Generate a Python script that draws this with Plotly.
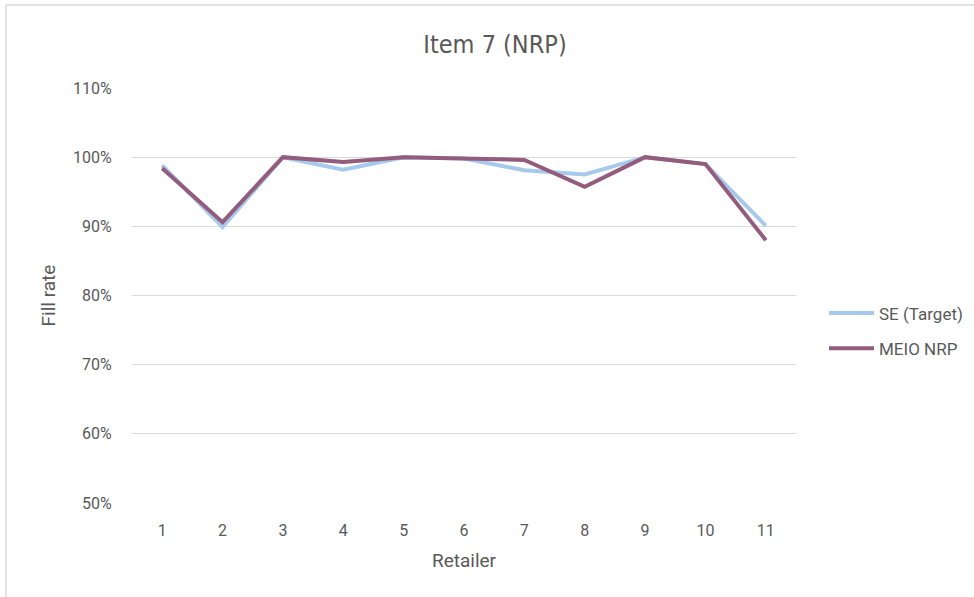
import plotly.graph_objects as go

retailers = ["1", "2", "3", "4", "5", "6", "7", "8", "9", "10", "11"]
se_target = [0.988, 0.899, 1.000, 0.982, 1.000, 0.998, 0.981, 0.975, 1.000, 0.990, 0.901]
meio_nrp = [0.984, 0.906, 1.000, 0.993, 1.000, 0.998, 0.996, 0.957, 1.000, 0.990, 0.880]
y_ticks = [0.5, 0.6, 0.7, 0.8, 0.9, 1.0, 1.1]

text_color = "#595959"
base_font = "Roboto, sans-serif"
title_font = "DejaVu Sans Condensed, Roboto, sans-serif"

fig = go.Figure()
fig.add_trace(go.Scatter(
    x=retailers, y=se_target, mode="lines", name="SE (Target)",
    line=dict(color="#A6C9EC", width=4), legendgroup="a",
))
fig.add_trace(go.Scatter(
    x=retailers, y=meio_nrp, mode="lines", name="MEIO NRP",
    line=dict(color="#935C7C", width=4), legendgroup="b",
))

fig.update_layout(
    width=974, height=597,
    margin=dict(l=132, r=178, t=88, b=94),
    paper_bgcolor="white", plot_bgcolor="white",
    title=dict(text="Item 7 (NRP)", x=495 / 974, xanchor="center",
               y=1 - 44 / 597, yanchor="middle",
               font=dict(family=title_font, size=25, color=text_color)),
    showlegend=True,
    legend=dict(xref="container", yref="container",
                x=824 / 974, xanchor="left", y=1 - 331 / 597, yanchor="middle",
                font=dict(family=base_font, size=17, color=text_color),
                tracegroupgap=10, itemwidth=45, bgcolor="rgba(0,0,0,0)"),
    xaxis=dict(
        type="category", range=[-0.5, 10.5],
        showgrid=False, zeroline=False, showline=False,
        ticks="outside", ticklen=13, tickcolor="white",
        tickfont=dict(family=base_font, size=16, color=text_color),
        title=dict(text="Retailer", standoff=14,
                   font=dict(family=base_font, size=19, color=text_color)),
    ),
    yaxis=dict(
        range=[0.5, 1.1], tickvals=y_ticks, tickformat=".0%",
        showgrid=True, gridcolor="#D9D9D9", gridwidth=1.3,
        zeroline=False, showline=False,
        ticks="outside", ticklen=16, tickcolor="white",
        tickfont=dict(family=base_font, size=16, color=text_color),
        title=dict(text="Fill rate", standoff=12,
                   font=dict(family=base_font, size=19, color=text_color)),
    ),
)

# light frame around the chart area (top and left edges visible)
fig.add_shape(type="rect", xref="paper", yref="paper",
              x0=-126 / 664, x1=1.5, y0=-0.5, y1=1 + 83 / 415,
              line=dict(color="#D9D9D9", width=1.5), fillcolor="rgba(0,0,0,0)",
              layer="below")

fig.write_html("out.html")
